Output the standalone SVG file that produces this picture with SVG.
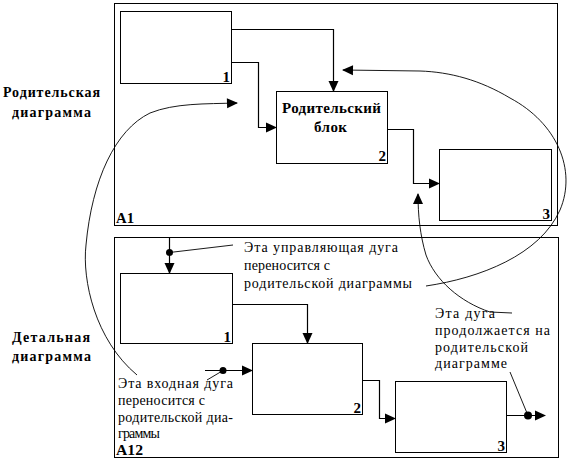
<svg xmlns="http://www.w3.org/2000/svg" width="572" height="462" viewBox="0 0 572 462">
<defs>
<marker id="ah" markerUnits="userSpaceOnUse" markerWidth="11" markerHeight="10" refX="10" refY="5" orient="auto" overflow="visible">
<path d="M0,0 L11,5 L0,10 z" fill="#000"/>
</marker>
</defs>
<style>
.frame,.box{fill:#fff;stroke:#000;stroke-width:1}
.ln{fill:none;stroke:#000;stroke-width:1.2}
.cv{fill:none;stroke:#000;stroke-width:0.9}
.ld{fill:none;stroke:#000;stroke-width:0.9}
.dot{fill:#000}
text{font-family:"Liberation Serif","Times New Roman",serif;fill:#000}
.b{font-weight:bold;font-size:14px}
.num{font-weight:bold;font-size:15px;text-anchor:end}
.t{font-size:14px}
</style>
<rect width="572" height="462" fill="#fff"/>
<g id="parent-frame">
<rect class="frame" x="114.5" y="3.5" width="443" height="222"/>
<text class="num" x="116" y="223" style="text-anchor:start" textLength="18" lengthAdjust="spacingAndGlyphs">A1</text>
</g>
<g id="detail-frame">
<rect class="frame" x="114.5" y="237.5" width="444" height="220"/>
<text class="num" x="116" y="455" style="text-anchor:start" textLength="27" lengthAdjust="spacingAndGlyphs">A12</text>
</g>
<g id="label-parent">
<text class="b" x="3" y="97" textLength="97" lengthAdjust="spacing">Родительская</text>
<text class="b" x="12" y="117" textLength="79" lengthAdjust="spacing">диаграмма</text>
</g>
<g id="label-detail">
<text class="b" x="12" y="342" textLength="78" lengthAdjust="spacing">Детальная</text>
<text class="b" x="12" y="361" textLength="79" lengthAdjust="spacing">диаграмма</text>
</g>
<g id="p1">
<rect class="box" x="120.5" y="11.5" width="111" height="72"/>
<text class="num" x="230" y="82">1</text>
</g>
<g id="p2">
<rect class="box" x="276.5" y="91.5" width="111" height="72"/>
<text class="b" x="282" y="113" style="font-size:15px" textLength="99" lengthAdjust="spacing">Родительский</text>
<text class="b" x="314" y="132" style="font-size:15px" textLength="33" lengthAdjust="spacing">блок</text>
<text class="num" x="386" y="161">2</text>
</g>
<g id="p3">
<rect class="box" x="439.5" y="149.5" width="112" height="71"/>
<text class="num" x="550" y="219">3</text>
</g>
<g id="d1">
<rect class="box" x="120.5" y="273.5" width="112" height="70"/>
<text class="num" x="231" y="342">1</text>
</g>
<g id="d2">
<rect class="box" x="252.5" y="343.5" width="110" height="71"/>
<text class="num" x="361" y="413">2</text>
</g>
<g id="d3">
<rect class="box" x="395.5" y="381.5" width="111" height="71"/>
<text class="num" x="505" y="451">3</text>
</g>
<g id="notes">
<text class="t" x="244" y="252" textLength="154" lengthAdjust="spacing">Эта управляющая дуга</text>
<text class="t" x="244" y="270" textLength="86" lengthAdjust="spacing">переносится с</text>
<text class="t" x="244" y="288" textLength="168" lengthAdjust="spacing">родительской диаграммы</text>
<text class="t" x="118" y="388" textLength="115" lengthAdjust="spacing">Эта входная дуга</text>
<text class="t" x="118" y="405" textLength="87" lengthAdjust="spacing">переносится с</text>
<text class="t" x="118" y="422" textLength="115" lengthAdjust="spacing">родительской диа-</text>
<text class="t" x="118" y="438" textLength="42" lengthAdjust="spacing">граммы</text>
<text class="t" x="435" y="318" textLength="60" lengthAdjust="spacing">Эта дуга</text>
<text class="t" x="435" y="335" textLength="115" lengthAdjust="spacing">продолжается на</text>
<text class="t" x="435" y="352" textLength="93" lengthAdjust="spacing">родительской</text>
<text class="t" x="435" y="368" textLength="72" lengthAdjust="spacing">диаграмме</text>
</g>
<g id="connectors">
<path class="ln" d="M231.5,29.5 H333.5 V91" marker-end="url(#ah)"/>
<path class="ln" d="M231.5,62.5 H258.5 V127.5 H276" marker-end="url(#ah)"/>
<path class="ln" d="M387.5,129.5 H413.5 V183.5 H439" marker-end="url(#ah)"/>
<path class="cv" d="M137,375 C95,340 82,280 86,245 C92,180 115,130 150,113 C175,103 205,104 237,103" marker-end="url(#ah)"/>
<path class="cv" d="M426,286 C480,278 540,255 560,210 C577,170 557,123 510,98 C480,80 450,72 420,71 L343,70" marker-end="url(#ah)"/>
<path class="cv" d="M512,313 L490,312 C460,302 435,280 426,255 C420,235 418,215 418,194" marker-end="url(#ah)"/>
<path class="ln" d="M169.5,237.5 V273" marker-end="url(#ah)"/>
<circle class="dot" cx="169.5" cy="252.5" r="3.5"/>
<path class="ld" d="M169.5,252.5 L233,245"/>
<path class="ln" d="M232.5,304.5 H307.5 V343" marker-end="url(#ah)"/>
<path class="ln" d="M205,370.5 H252" marker-end="url(#ah)"/>
<circle class="dot" cx="223" cy="370.5" r="3.5"/>
<path class="ld" d="M223,370.5 L207,380"/>
<path class="ln" d="M362.5,380.5 H379.5 V418.5 H395" marker-end="url(#ah)"/>
<path class="ln" d="M506.5,415.5 H545" marker-end="url(#ah)"/>
<circle class="dot" cx="528" cy="415.5" r="4"/>
<path class="ld" d="M510,372 L528,415.5"/>
</g>
</svg>
